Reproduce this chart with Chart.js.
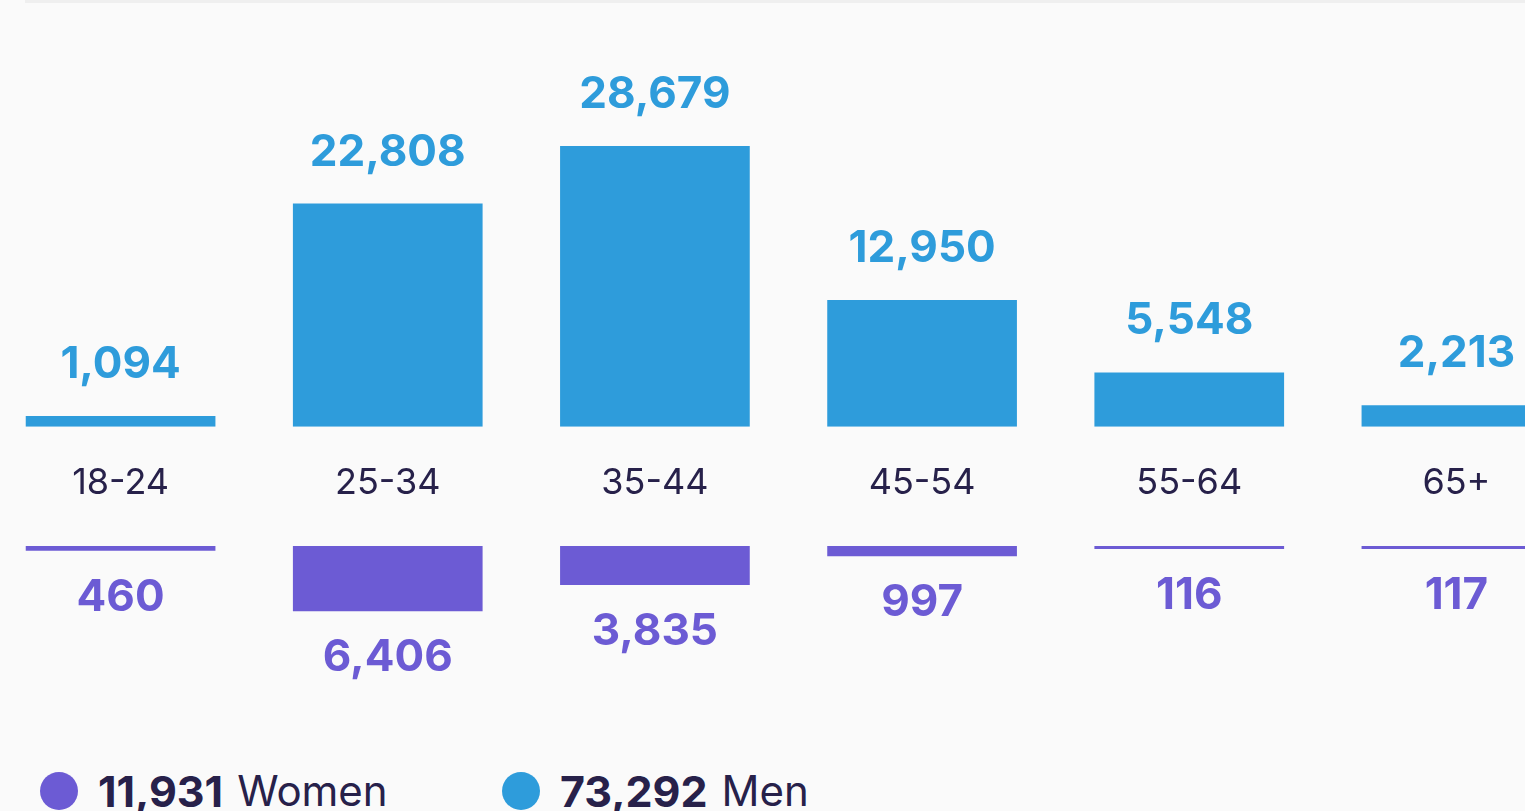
<!DOCTYPE html>
<html>
<head>
<meta charset="utf-8">
<script src="https://cdn.jsdelivr.net/npm/chart.js@4.4.1/dist/chart.umd.min.js"></script>
<style>
  html, body { margin: 0; padding: 0; }
  body {
    width: 1525px;
    height: 811px;
    overflow: hidden;
    background: #fafafa;
    position: relative;
    font-family: Inter, "Noto Sans", sans-serif;
  }
  .topline { position: absolute; top: 0; left: 25px; right: 0; height: 3px; background: #efefef; }
  #menWrap { position: absolute; top: 0; left: -13px; width: 1603px; height: 540px; }
  #womenWrap { position: absolute; top: 546px; left: -13px; width: 1603px; height: 160px; }
  .legend { position: absolute; top: 769px; left: 40px; display: flex; align-items: center; font-size: 42px; line-height: 44px; color: #27214a; white-space: nowrap; }
  .legend .item { display: flex; align-items: center; }
  .legend .dot { width: 38px; height: 38px; border-radius: 50%; margin-right: 20px; }
  .legend b { font-weight: 700; font-size: 43px; margin-right: 14px; }
</style>
</head>
<body>
<div class="topline"></div>
<div id="menWrap"><canvas id="menChart"></canvas></div>
<div id="womenWrap"><canvas id="womenChart"></canvas></div>
<div class="legend">
  <div class="item" style="width:462px"><span class="dot" style="background:#6c5bd4"></span><b id="womenTotal"></b><span>Women</span></div>
  <div class="item"><span class="dot" style="background:#2e9cdb"></span><b id="menTotal"></b><span>Men</span></div>
</div>
<script>
// age groups and counts
const ageGroups = ['18-24', '25-34', '35-44', '45-54', '55-64', '65+'];
const menValues = [1094, 22808, 28679, 12950, 5548, 2213];
const womenValues = [460, 6406, 3835, 997, 116, 117];

const MEN_COLOR = '#2e9cdb';
const WOMEN_COLOR = '#6c5bd4';
const TEXT_COLOR = '#27214a';

const fmt = v => v.toLocaleString('en-US');

document.getElementById('womenTotal').textContent = fmt(womenValues.reduce((a, b) => a + b, 0));
document.getElementById('menTotal').textContent = fmt(menValues.reduce((a, b) => a + b, 0));

// draws the number next to each bar
const valueLabels = {
  id: 'valueLabels',
  afterDatasetsDraw(chart, args, opts) {
    const ctx = chart.ctx;
    const meta = chart.getDatasetMeta(0);
    const data = chart.data.datasets[0].data;
    ctx.save();
    ctx.font = '700 44px Inter';
    ctx.fillStyle = opts.color;
    ctx.textAlign = 'center';
    ctx.textBaseline = 'alphabetic';
    meta.data.forEach((bar, i) => {
      const y = opts.below ? bar.y + opts.offset : bar.y - opts.offset;
      ctx.fillText(fmt(data[i]), bar.x, y);
    });
    ctx.restore();
  }
};

Chart.register(valueLabels);

const menChart = new Chart(document.getElementById('menChart'), {
  type: 'bar',
  data: {
    labels: ageGroups,
    datasets: [{
      label: 'Men',
      data: menValues,
      backgroundColor: MEN_COLOR,
      barPercentage: 0.71,
      categoryPercentage: 1,
      minBarLength: 4
    }]
  },
  options: {
    responsive: true,
    maintainAspectRatio: false,
    animation: false,
    layout: { padding: 0 },
    plugins: {
      legend: { display: false },
      tooltip: { enabled: false },
      valueLabels: { color: MEN_COLOR, offset: 38, below: false }
    },
    scales: {
      x: {
        grid: { display: false, drawTicks: false },
        border: { display: false },
        ticks: {
          color: TEXT_COLOR,
          padding: 35,
          font: { family: 'Inter', size: 36, weight: '400', lineHeight: 1.2 }
        }
      },
      y: {
        display: false,
        min: 0,
        max: 43600
      }
    }
  }
});

const womenChart = new Chart(document.getElementById('womenChart'), {
  type: 'bar',
  data: {
    labels: ageGroups,
    datasets: [{
      label: 'Women',
      data: womenValues,
      backgroundColor: WOMEN_COLOR,
      barPercentage: 0.71,
      categoryPercentage: 1,
      minBarLength: 3
    }]
  },
  options: {
    responsive: true,
    maintainAspectRatio: false,
    animation: false,
    layout: { padding: 0 },
    plugins: {
      legend: { display: false },
      tooltip: { enabled: false },
      valueLabels: { color: WOMEN_COLOR, offset: 60, below: true }
    },
    scales: {
      x: { display: false },
      y: {
        display: false,
        reverse: true,
        min: 0,
        max: 15700
      }
    }
  }
});
</script>
</body>
</html>
